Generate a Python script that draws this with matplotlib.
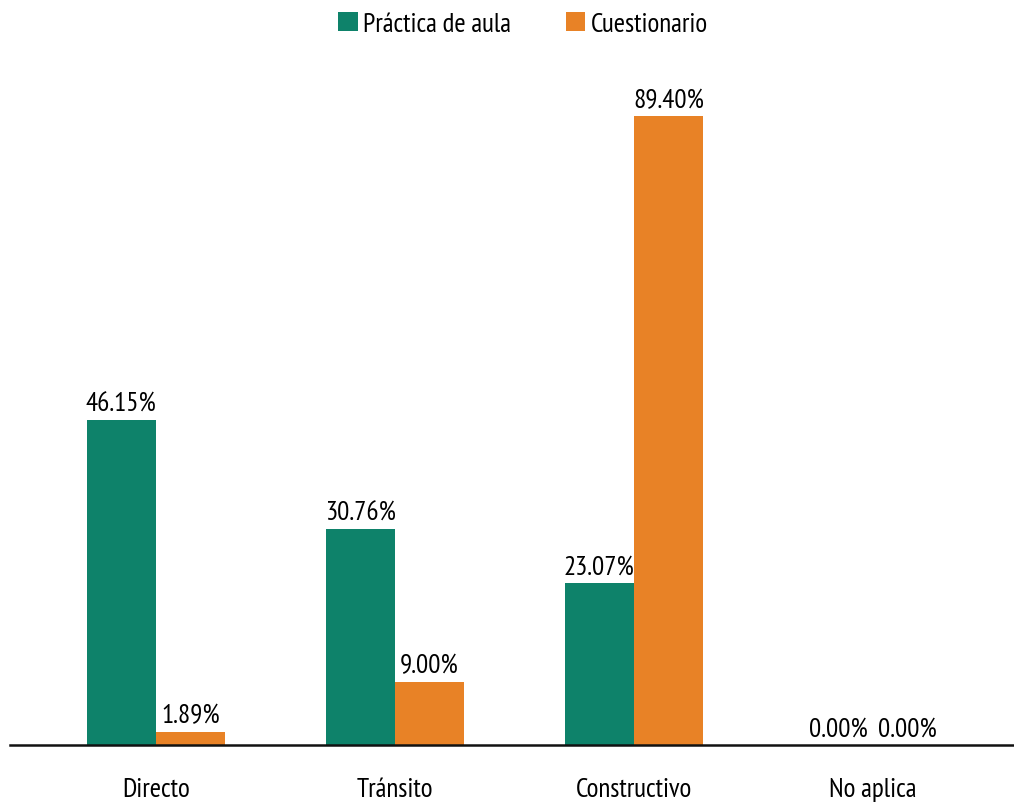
import matplotlib
matplotlib.use("Agg")
import matplotlib.pyplot as plt
import numpy as np

# data
categories = ["Directo", "Tránsito", "Constructivo", "No aplica"]
practica = [46.15, 30.76, 23.07, 0.00]
cuestionario = [1.89, 9.00, 89.40, 0.00]
series_names = ["Práctica de aula", "Cuestionario"]

GREEN = "#0e826a"
ORANGE = "#e88226"
FS = 19.5

plt.rcParams["font.family"] = ["PT Sans Narrow", "DejaVu Sans"]

W, H = 1014, 804
fig = plt.figure(figsize=(W / 100, H / 100), dpi=100)
# baseline sits at y=746 px, axes spans x 10..1014 px
ax = fig.add_axes([10 / W, (H - 746) / H, 1004 / W, 690 / H])

x = np.arange(len(categories))
width = 0.289

b1 = ax.bar(x - width / 2, practica, width, color=GREEN, label=series_names[0])
b2 = ax.bar(x + width / 2, cuestionario, width, color=ORANGE, label=series_names[1])

for bars in (b1, b2):
    for rect in bars:
        h = rect.get_height()
        ax.annotate(f"{h:.2f}%", (rect.get_x() + rect.get_width() / 2, h),
                    xytext=(0, 3), textcoords="offset points",
                    ha="center", va="bottom", fontsize=FS)

ax.set_xlim(-0.61, 3.59)
ax.set_ylim(0, 690 / 7.036)
ax.set_xticks(x)
ax.set_xticklabels(categories, fontsize=FS)
ax.tick_params(axis="x", length=0, pad=23)
ax.set_yticks([])
for side in ("top", "right", "left"):
    ax.spines[side].set_visible(False)
ax.spines["bottom"].set_linewidth(1.8)
ax.spines["bottom"].set_color("#111111")

fig.legend(loc="center", bbox_to_anchor=(523 / W, 1 - 25 / H), ncol=2, frameon=False,
           fontsize=FS, handlelength=0.72, handleheight=0.72, handletextpad=0.2,
           columnspacing=2.0)

fig.savefig("out.png", dpi=100)
